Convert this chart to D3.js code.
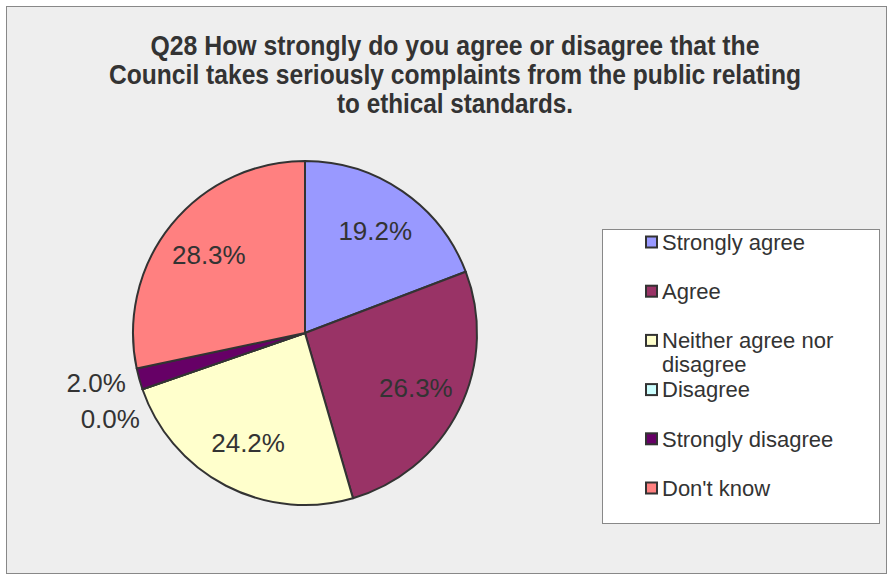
<!DOCTYPE html>
<html>
<head>
<meta charset="utf-8">
<script src="https://cdn.jsdelivr.net/npm/d3@7/dist/d3.min.js"></script>
<style>
  html, body { margin: 0; padding: 0; background: #ffffff; }
  svg { display: block; font-family: "Liberation Sans", Arial, sans-serif; }
</style>
</head>
<body>
<svg id="chart" width="890" height="577"></svg>
<script>
// Survey responses, Q28
const categories = ["Strongly agree", "Agree", "Neither agree nor disagree", "Disagree", "Strongly disagree", "Don't know"];
const values = [19.2, 26.3, 24.2, 0.0, 2.0, 28.3];
const colors = ["#9999FF", "#993366", "#FFFFCC", "#CCFFFF", "#660066", "#FF8080"];
const legendLines = [["Strongly agree"], ["Agree"], ["Neither agree nor", "disagree"], ["Disagree"], ["Strongly disagree"], ["Don't know"]];
const titleLines = [
  "Q28 How strongly do you agree or disagree that the",
  "Council takes seriously complaints from the public relating",
  "to ethical standards."
];

const svg = d3.select("#chart");
const W = 890, H = 577;

// chart area
svg.append("rect").attr("x", 0).attr("y", 0).attr("width", W).attr("height", H).attr("fill", "#ffffff");
svg.append("rect")
  .attr("x", 6.5).attr("y", 6.5).attr("width", 880).attr("height", 567)
  .attr("fill", "#eeeeee").attr("stroke", "#888888").attr("stroke-width", 1);

// title (condensed bold, three lines)
const titleWidths = [609, 692, 236];
const title = svg.append("g");
titleLines.forEach((t, i) => {
  title.append("text")
    .attr("x", 455).attr("y", 55 + i * 29)
    .attr("text-anchor", "middle")
    .attr("font-size", 27).attr("font-weight", "bold")
    .attr("fill", "#333333")
    .attr("textLength", titleWidths[i])
    .attr("lengthAdjust", "spacingAndGlyphs")
    .text(t);
});

// pie
const cx = 305, cy = 333, r = 172;
const data = categories.map((c, i) => ({ name: c, value: values[i], color: colors[i] }));
const pie = d3.pie().value(d => d.value).sort(null);
const arcs = pie(data);
const arc = d3.arc().innerRadius(0).outerRadius(r);
const labelArc = d3.arc().innerRadius(r * 0.72).outerRadius(r * 0.72);

const g = svg.append("g").attr("transform", `translate(${cx},${cy})`);
g.selectAll("path.slice")
  .data(arcs)
  .join("path")
  .attr("class", "slice")
  .attr("d", arc)
  .attr("fill", d => d.data.color)
  .attr("stroke", "#333333")
  .attr("stroke-width", 2)
  .attr("stroke-linejoin", "round");

const fmt = v => v.toFixed(1) + "%";

// inside labels for large slices
const inside = arcs.filter(d => d.data.value >= 5);
g.selectAll("text.inlabel")
  .data(inside)
  .join("text")
  .attr("class", "inlabel")
  .attr("transform", d => `translate(${labelArc.centroid(d)})`)
  .attr("text-anchor", "middle")
  .attr("dy", "0.35em")
  .attr("font-size", 26)
  .attr("fill", "#333333")
  .text(d => fmt(d.data.value));

// outside labels for thin slices, spread apart so they don't collide
const R = r + 14;
const outside = arcs.filter(d => d.data.value < 5).map(d => {
  const a = (d.startAngle + d.endAngle) / 2;
  return { d, a, y: -R * Math.cos(a) };
});
outside.sort((p, q) => p.y - q.y);
const minGap = 36;
for (let i = 1; i < outside.length; i++) {
  if (outside[i].y - outside[i - 1].y < minGap) outside[i].y = outside[i - 1].y + minGap;
}
outside.forEach(o => {
  const side = Math.sin(o.a) < 0 ? -1 : 1;
  const dy = Math.max(-R, Math.min(R, o.y));
  o.x = side * Math.sqrt(R * R - dy * dy);
  o.anchor = side < 0 ? "end" : "start";
});
g.selectAll("text.outlabel")
  .data(outside)
  .join("text")
  .attr("class", "outlabel")
  .attr("x", o => o.x).attr("y", o => o.y)
  .attr("text-anchor", o => o.anchor)
  .attr("dy", "0.35em")
  .attr("font-size", 26)
  .attr("fill", "#333333")
  .text(o => fmt(o.d.data.value));

// legend
const legend = svg.append("g");
legend.append("rect")
  .attr("x", 602.5).attr("y", 229.5).attr("width", 277).attr("height", 294)
  .attr("fill", "#ffffff").attr("stroke", "#888888").attr("stroke-width", 1);
const rowY = d3.scalePoint().domain(categories).range([242, 488]);
const items = legend.selectAll("g.item")
  .data(data)
  .join("g")
  .attr("class", "item")
  .attr("transform", d => `translate(645,${rowY(d.name)})`);
items.append("rect")
  .attr("x", 1).attr("y", -5.5).attr("width", 11).attr("height", 11)
  .attr("fill", d => d.color)
  .attr("stroke", "#333333").attr("stroke-width", 2);
items.each(function (d, i) {
  const t = d3.select(this).append("text")
    .attr("x", 17).attr("y", 0)
    .attr("font-size", 22)
    .attr("fill", "#333333");
  legendLines[i].forEach((line, j) => {
    t.append("tspan").attr("x", 17).attr("dy", j === 0 ? "0.35em" : "1.1em").text(line);
  });
});
</script>
</body>
</html>
